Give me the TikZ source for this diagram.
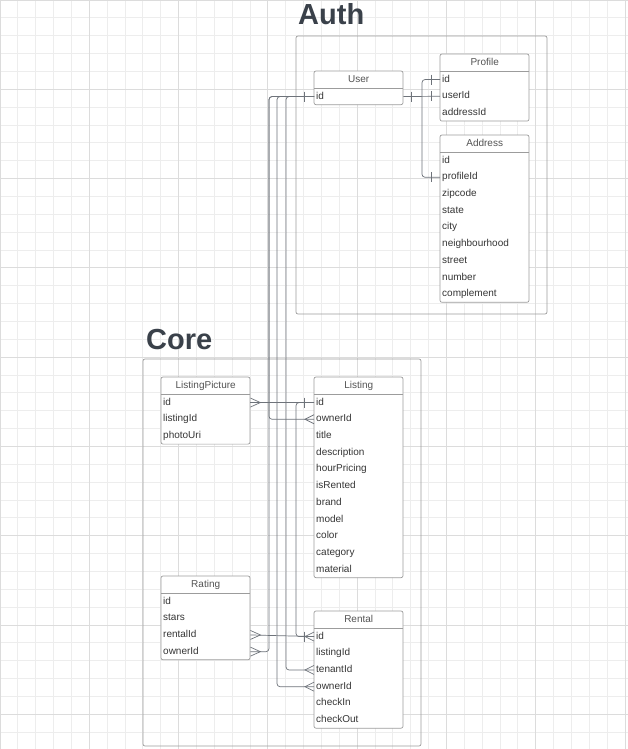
\documentclass[tikz,border=0pt]{standalone}
\usepackage{fontspec}
\setmainfont{Liberation Sans}
\definecolor{gridminor}{HTML}{EDEDED}
\definecolor{gridmajor}{HTML}{DCDCDC}
\definecolor{boxline}{HTML}{9C9C9C}
\definecolor{linkline}{HTML}{6E737A}
\definecolor{titletext}{HTML}{3A414A}
\definecolor{rowtext}{HTML}{353535}
\tikzset{
  box/.style={draw=boxline, fill=white, rounded corners=2pt, line width=0.7pt},
  zone/.style={draw=boxline, rounded corners=2pt, line width=0.7pt},
  hdr/.style={anchor=north west, minimum width=89pt, minimum height=17pt, inner sep=0pt,
    text height=7.3pt, text depth=2.2pt, font=\fontsize{10}{12}\selectfont, text=rowtext!85},
  row/.style={anchor=north west, text width=85pt, align=left, inner xsep=2pt, inner ysep=0pt,
    minimum height=16.7pt, text height=7.3pt, text depth=2.2pt,
    font=\fontsize{10}{12}\selectfont, text=rowtext},
  link/.style={draw=linkline, line width=0.7pt, rounded corners=3pt},
  zonetitle/.style={anchor=base west, inner sep=0pt, font=\fontsize{29}{34}\selectfont\bfseries, text=titletext},
}
% entity box: name, title, left, top, fields
\newcommand{\entity}[5]{%
  \foreach \f [count=\i] in {#5} {\xdef\nrows{\i}}
  \draw[box] (#3,#4) rectangle ++(89,17+\nrows*16.7);
  \draw[draw=boxline, line width=0.7pt] (#3,#4+17) -- ++(89,0);
  \node[hdr] (#1) at (#3,#4) {#2};
  \foreach \f [count=\i] in {#5}
    \node[row] (#1-\f) at (#3,#4+\i*16.7+0.3) {\f};
}
% relation ends
\newcommand{\onebar}[2]{\draw[link, sharp corners, shift={(#1)}] (#2,-5) -- (#2,5);}
\newcommand{\crowfoot}[2]{\draw[link, sharp corners, shift={(#1)}] (0,-4.5) -- (#2,0) -- (0,4.5);}

\begin{document}
\begin{tikzpicture}[x=1pt, y=-1pt]
  \useasboundingbox (0,0) rectangle (628,749);
  \fill[white] (0,0) rectangle (628,749);
  % grid
  \foreach \k in {0,...,35} \draw[gridminor, line width=0.8pt] (\k*17.857,0) -- (\k*17.857,749);
  \foreach \k in {0,...,41} \draw[gridminor, line width=0.8pt] (0,\k*17.857) -- (628,\k*17.857);
  \foreach \k in {0,5,...,35} \draw[gridmajor, line width=0.8pt] (\k*17.857,0) -- (\k*17.857,749);
  \foreach \k in {0,5,...,40} \draw[gridmajor, line width=0.8pt] (0,\k*17.857) -- (628,\k*17.857);

  % zones
  \node[zonetitle] (auth) at (298,25) {Auth};
  \draw[zone] (296,36) rectangle (547,314);
  \node[zonetitle] (core) at (146,349) {Core};
  \draw[zone] (143,359) rectangle (421,746);

  % Auth
  \entity{user}{User}{314}{71}{id}
  \entity{profile}{Profile}{440}{54}{id,userId,addressId}
  \entity{address}{Address}{440}{135}{id,profileId,zipcode,state,city,neighbourhood,street,number,complement}

  % Core
  \entity{listingpicture}{ListingPicture}{161}{377}{id,listingId,photoUri}
  \entity{listing}{Listing}{314}{377}{id,ownerId,title,description,hourPricing,isRented,brand,model,color,category,material}
  \entity{rating}{Rating}{161}{576}{id,stars,rentalId,ownerId}
  \entity{rental}{Rental}{314}{611}{id,listingId,tenantId,ownerId,checkIn,checkOut}

  % user links
  \draw[link] (user-id.east) -- (profile-userId.west);
  \onebar{user-id.east}{8}
  \onebar{profile-userId.west}{-9}
  \draw[link] (profile-id.west) -- ++(-18,0) |- (address-profileId.west);
  \onebar{profile-id.west}{-9}
  \onebar{address-profileId.west}{-9}
  \draw[link] (user-id.west) -- ++(-45,0) |- (listing-ownerId.west);
  \draw[link] (user-id.west) -- ++(-45,0) |- (rating-ownerId.east);
  \draw[link] (user-id.west) -- ++(-37,0) |- (rental-ownerId.west);
  \draw[link] (user-id.west) -- ++(-28,0) |- (rental-tenantId.west);
  \onebar{user-id.west}{-10}
  \crowfoot{listing-ownerId.west}{-9}
  \crowfoot{rating-ownerId.east}{10}
  \crowfoot{rental-ownerId.west}{-9}
  \crowfoot{rental-tenantId.west}{-9}

  % listing links
  \draw[link] (listingpicture-id.east) -- (listing-id.west);
  \crowfoot{listingpicture-id.east}{10}
  \onebar{listing-id.west}{-10}
  \draw[link] (listing-id.west) -- ++(-18,0) |- (rental-id.west);

  % rental links
  \draw[link] (rating-rentalId.east) -- (rental-id.west);
  \crowfoot{rating-rentalId.east}{10}
  \onebar{rental-id.west}{-10}
  \crowfoot{rental-id.west}{-9}
\end{tikzpicture}
\end{document}
